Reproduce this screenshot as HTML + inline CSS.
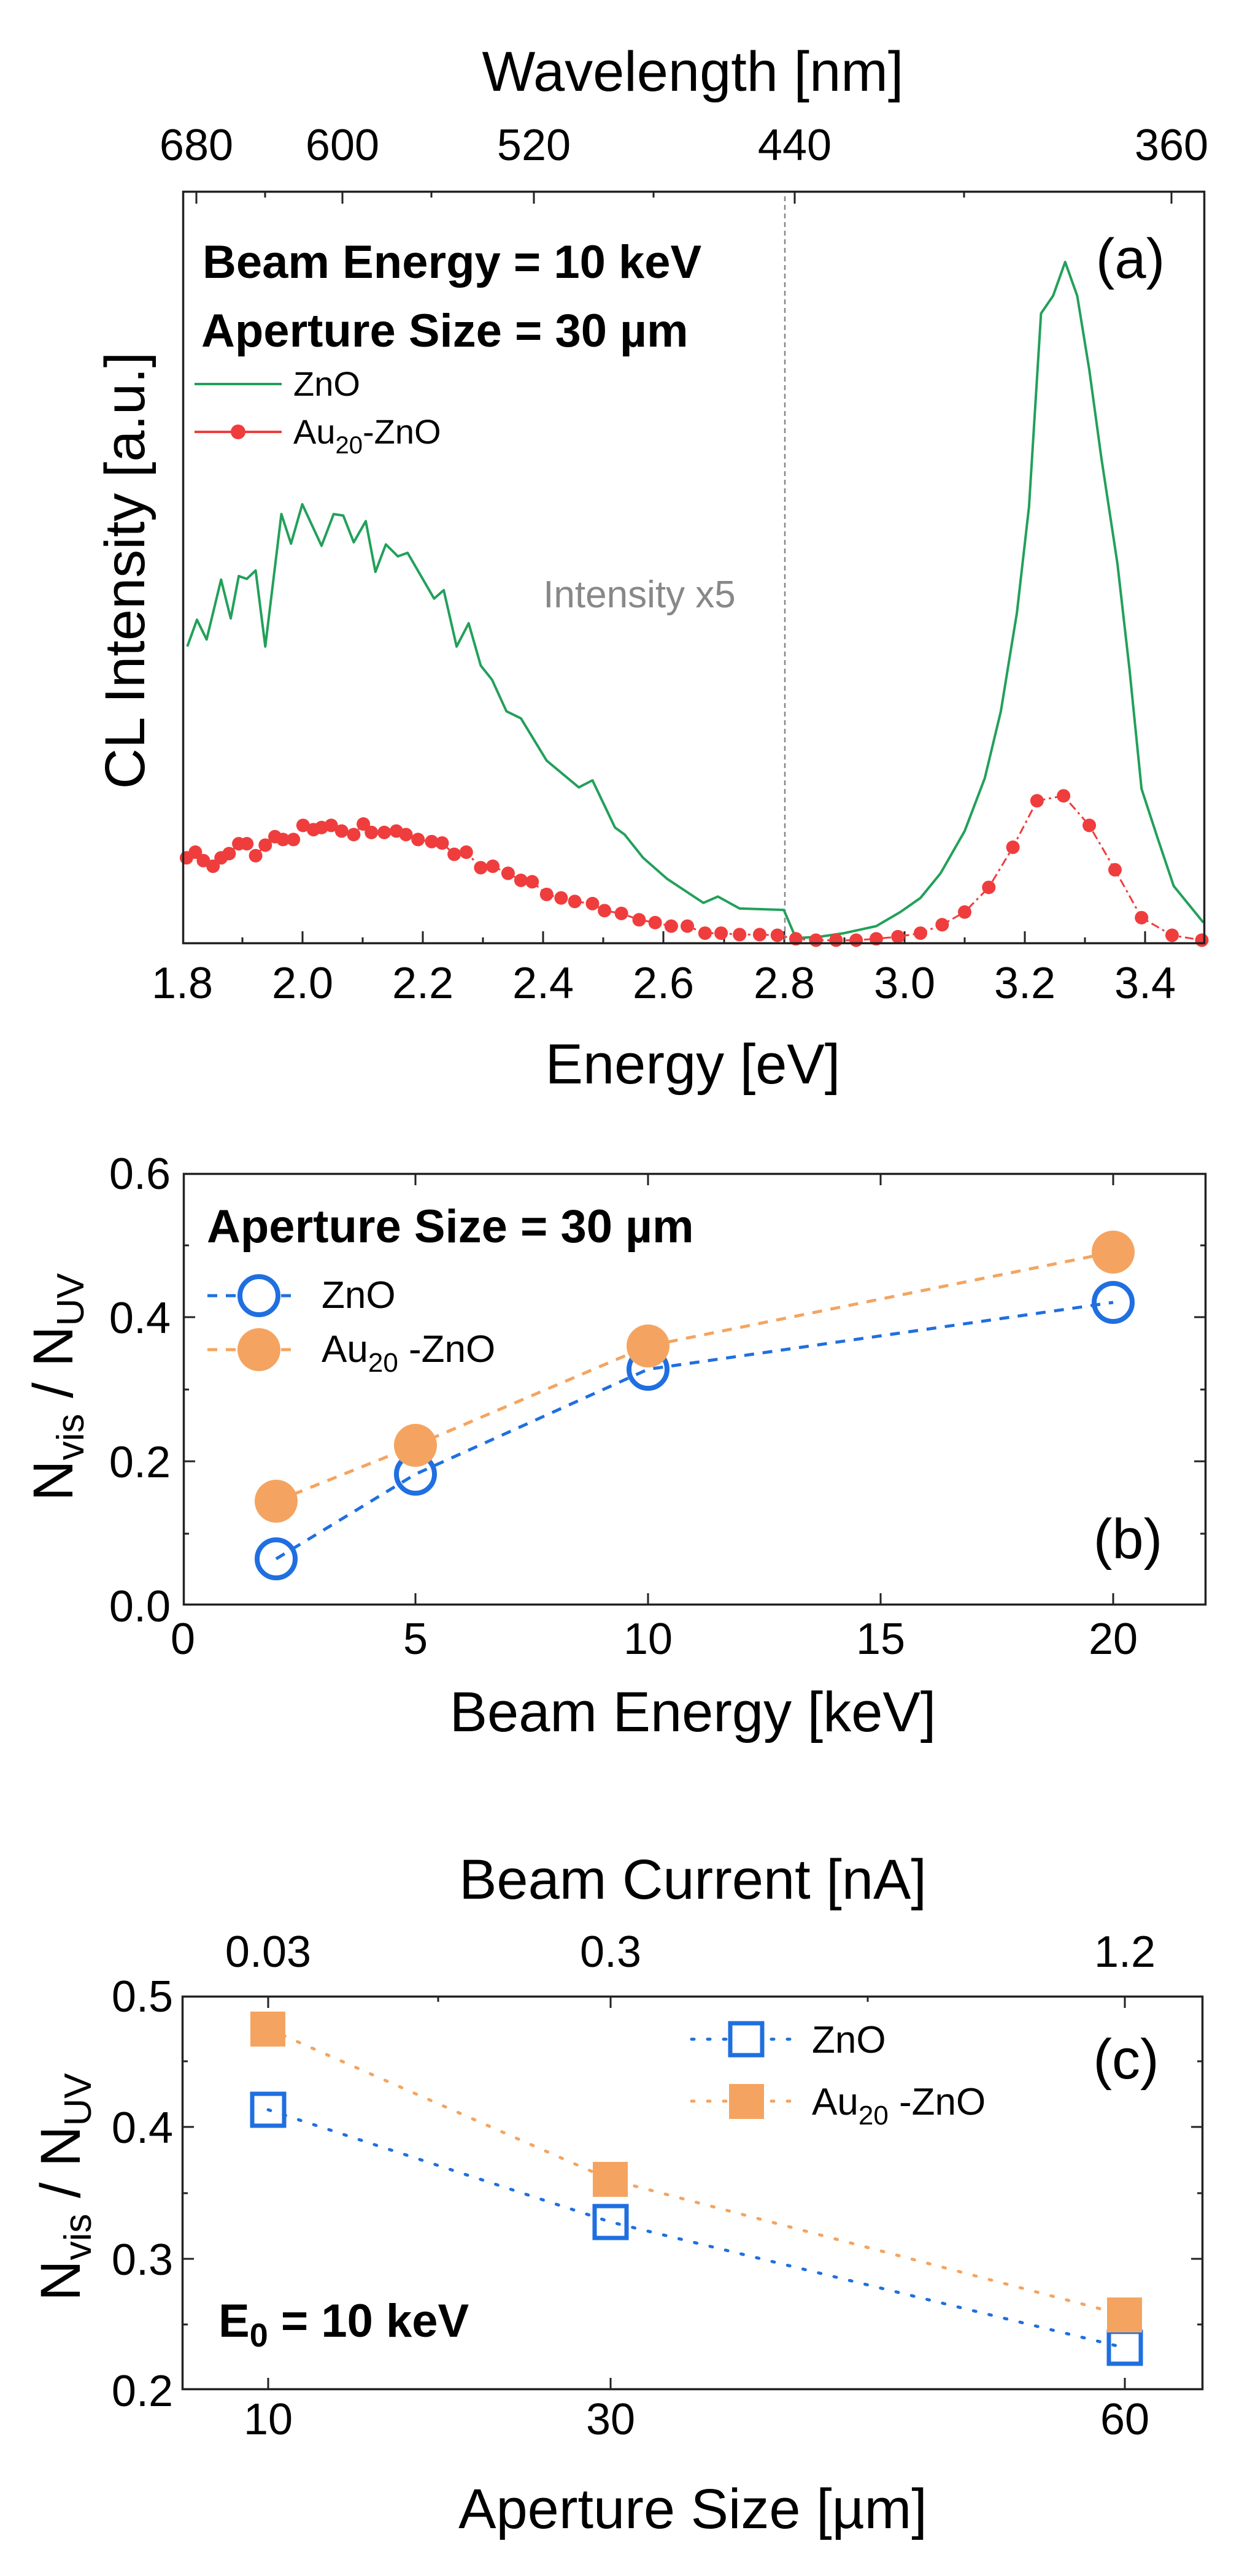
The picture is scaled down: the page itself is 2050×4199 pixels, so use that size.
<!DOCTYPE html>
<html><head><meta charset="utf-8"><style>
html,body{margin:0;padding:0;background:#fff;}
svg{display:block;font-family:"Liberation Sans",Arial,sans-serif;}
</style></head><body>
<svg width="2050" height="4199" viewBox="0 0 2050 4199" xmlns="http://www.w3.org/2000/svg">
<rect width="2050" height="4199" fill="#fff"/>

<!-- ================= PANEL A ================= -->
<text x="1129" y="148" font-size="92" text-anchor="middle">Wavelength [nm]</text>
<g font-size="72" text-anchor="middle">
<text x="320" y="261">680</text><text x="558" y="261">600</text><text x="870" y="261">520</text><text x="1295" y="261">440</text><text x="1909" y="261">360</text>
</g>
<g stroke="#222" stroke-width="3">
<!-- top ticks -->
<line x1="320" y1="311" x2="320" y2="332"/><line x1="558" y1="311" x2="558" y2="332"/><line x1="870" y1="311" x2="870" y2="332"/><line x1="1295" y1="311" x2="1295" y2="332"/><line x1="1909" y1="311" x2="1909" y2="332"/>
<line x1="432" y1="311" x2="432" y2="322"/><line x1="703" y1="311" x2="703" y2="322"/><line x1="1065" y1="311" x2="1065" y2="322"/><line x1="1571" y1="311" x2="1571" y2="322"/>
<!-- bottom ticks -->
<line x1="493" y1="1539" x2="493" y2="1518"/><line x1="689" y1="1539" x2="689" y2="1518"/><line x1="885" y1="1539" x2="885" y2="1518"/><line x1="1081" y1="1539" x2="1081" y2="1518"/><line x1="1278" y1="1539" x2="1278" y2="1518"/><line x1="1474" y1="1539" x2="1474" y2="1518"/><line x1="1670" y1="1539" x2="1670" y2="1518"/><line x1="1866" y1="1539" x2="1866" y2="1518"/>
<line x1="395" y1="1539" x2="395" y2="1528"/><line x1="591" y1="1539" x2="591" y2="1528"/><line x1="787" y1="1539" x2="787" y2="1528"/><line x1="983" y1="1539" x2="983" y2="1528"/><line x1="1180" y1="1539" x2="1180" y2="1528"/><line x1="1376" y1="1539" x2="1376" y2="1528"/><line x1="1572" y1="1539" x2="1572" y2="1528"/><line x1="1768" y1="1539" x2="1768" y2="1528"/>
</g>
<line x1="1279" y1="320" x2="1279" y2="1535" stroke="#888" stroke-width="2.5" stroke-dasharray="8,6"/>
<g transform="scale(1.31,1.148)">
<polyline fill="none" stroke="#22a05a" stroke-width="4" vector-effect="non-scaling-stroke" stroke-linejoin="round" points="233,918 245,880 257,908 275,823 287,878 297,818 307,822 318,810 330,918 350,730 362,772 376,716 400,775 415,730 427,732 440,770 455,740 467,812 480,773 495,790 507,785 540,850 552,838 568,918 583,885 598,945 612,965 630,1010 648,1020 680,1080 720,1118 737,1108 765,1175 777,1185 800,1218 830,1248 875,1282 893,1273 920,1290 975,1292 990,1332 1020,1330 1050,1325 1090,1315 1120,1295 1145,1275 1170,1240 1200,1180 1225,1105 1245,1010 1265,870 1280,720 1295,445 1310,420 1325,372 1340,420 1355,525 1370,650 1390,800 1405,950 1420,1120 1440,1190 1460,1258 1497,1310"/>
<polyline fill="none" stroke="#ef3d3d" stroke-width="3" vector-effect="non-scaling-stroke" stroke-dasharray="14,6,4,6" points="232,1218 243,1210 253,1222 265,1230 275,1218 285,1212 297,1198 307,1198 318,1215 330,1200 342,1188 352,1192 365,1192 377,1172 390,1178 400,1175 412,1172 425,1180 440,1185 452,1170 462,1182 478,1182 493,1180 505,1185 520,1192 537,1195 550,1197 565,1213 580,1210 598,1232 613,1230 632,1240 648,1250 662,1252 680,1270 698,1275 715,1280 737,1283 752,1293 773,1297 795,1306 815,1310 835,1315 855,1315 877,1325 897,1325 920,1327 945,1327 967,1328 990,1333 1015,1335 1040,1335 1065,1335 1090,1333 1117,1330 1145,1325 1172,1313 1200,1295 1230,1260 1260,1203 1290,1137 1323,1130 1355,1172 1387,1235 1420,1303 1458,1328 1495,1335"/>
<g fill="#ef3d3d">
<ellipse cx="232" cy="1218" rx="8.4" ry="9.6"/><ellipse cx="243" cy="1210" rx="8.4" ry="9.6"/><ellipse cx="253" cy="1222" rx="8.4" ry="9.6"/><ellipse cx="265" cy="1230" rx="8.4" ry="9.6"/><ellipse cx="275" cy="1218" rx="8.4" ry="9.6"/><ellipse cx="285" cy="1212" rx="8.4" ry="9.6"/><ellipse cx="297" cy="1198" rx="8.4" ry="9.6"/><ellipse cx="307" cy="1198" rx="8.4" ry="9.6"/><ellipse cx="318" cy="1215" rx="8.4" ry="9.6"/><ellipse cx="330" cy="1200" rx="8.4" ry="9.6"/><ellipse cx="342" cy="1188" rx="8.4" ry="9.6"/><ellipse cx="352" cy="1192" rx="8.4" ry="9.6"/><ellipse cx="365" cy="1192" rx="8.4" ry="9.6"/><ellipse cx="377" cy="1172" rx="8.4" ry="9.6"/><ellipse cx="390" cy="1178" rx="8.4" ry="9.6"/><ellipse cx="400" cy="1175" rx="8.4" ry="9.6"/><ellipse cx="412" cy="1172" rx="8.4" ry="9.6"/><ellipse cx="425" cy="1180" rx="8.4" ry="9.6"/><ellipse cx="440" cy="1185" rx="8.4" ry="9.6"/><ellipse cx="452" cy="1170" rx="8.4" ry="9.6"/><ellipse cx="462" cy="1182" rx="8.4" ry="9.6"/><ellipse cx="478" cy="1182" rx="8.4" ry="9.6"/><ellipse cx="493" cy="1180" rx="8.4" ry="9.6"/><ellipse cx="505" cy="1185" rx="8.4" ry="9.6"/><ellipse cx="520" cy="1192" rx="8.4" ry="9.6"/><ellipse cx="537" cy="1195" rx="8.4" ry="9.6"/><ellipse cx="550" cy="1197" rx="8.4" ry="9.6"/><ellipse cx="565" cy="1213" rx="8.4" ry="9.6"/><ellipse cx="580" cy="1210" rx="8.4" ry="9.6"/><ellipse cx="598" cy="1232" rx="8.4" ry="9.6"/><ellipse cx="613" cy="1230" rx="8.4" ry="9.6"/><ellipse cx="632" cy="1240" rx="8.4" ry="9.6"/><ellipse cx="648" cy="1250" rx="8.4" ry="9.6"/><ellipse cx="662" cy="1252" rx="8.4" ry="9.6"/><ellipse cx="680" cy="1270" rx="8.4" ry="9.6"/><ellipse cx="698" cy="1275" rx="8.4" ry="9.6"/><ellipse cx="715" cy="1280" rx="8.4" ry="9.6"/><ellipse cx="737" cy="1283" rx="8.4" ry="9.6"/><ellipse cx="752" cy="1293" rx="8.4" ry="9.6"/><ellipse cx="773" cy="1297" rx="8.4" ry="9.6"/><ellipse cx="795" cy="1306" rx="8.4" ry="9.6"/><ellipse cx="815" cy="1310" rx="8.4" ry="9.6"/><ellipse cx="835" cy="1315" rx="8.4" ry="9.6"/><ellipse cx="855" cy="1315" rx="8.4" ry="9.6"/><ellipse cx="877" cy="1325" rx="8.4" ry="9.6"/><ellipse cx="897" cy="1325" rx="8.4" ry="9.6"/><ellipse cx="920" cy="1327" rx="8.4" ry="9.6"/><ellipse cx="945" cy="1327" rx="8.4" ry="9.6"/><ellipse cx="967" cy="1328" rx="8.4" ry="9.6"/><ellipse cx="990" cy="1333" rx="8.4" ry="9.6"/><ellipse cx="1015" cy="1335" rx="8.4" ry="9.6"/><ellipse cx="1040" cy="1335" rx="8.4" ry="9.6"/><ellipse cx="1065" cy="1335" rx="8.4" ry="9.6"/><ellipse cx="1090" cy="1333" rx="8.4" ry="9.6"/><ellipse cx="1117" cy="1330" rx="8.4" ry="9.6"/><ellipse cx="1145" cy="1325" rx="8.4" ry="9.6"/><ellipse cx="1172" cy="1313" rx="8.4" ry="9.6"/><ellipse cx="1200" cy="1295" rx="8.4" ry="9.6"/><ellipse cx="1230" cy="1260" rx="8.4" ry="9.6"/><ellipse cx="1260" cy="1203" rx="8.4" ry="9.6"/><ellipse cx="1290" cy="1137" rx="8.4" ry="9.6"/><ellipse cx="1323" cy="1130" rx="8.4" ry="9.6"/><ellipse cx="1355" cy="1172" rx="8.4" ry="9.6"/><ellipse cx="1387" cy="1235" rx="8.4" ry="9.6"/><ellipse cx="1420" cy="1303" rx="8.4" ry="9.6"/><ellipse cx="1458" cy="1328" rx="8.4" ry="9.6"/><ellipse cx="1495" cy="1335" rx="8.4" ry="9.6"/>
</g>
</g>
<rect x="298.5" y="312.5" width="1664" height="1225" fill="none" stroke="#222" stroke-width="3.5"/>
<text x="330" y="453" font-size="76" font-weight="bold">Beam Energy = 10 keV</text>
<text x="328" y="565" font-size="76" font-weight="bold">Aperture Size = 30 µm</text>
<line x1="317" y1="626" x2="459" y2="626" stroke="#22a05a" stroke-width="4"/>
<text x="478" y="645" font-size="56">ZnO</text>
<line x1="317" y1="704" x2="459" y2="704" stroke="#ef3d3d" stroke-width="4"/>
<circle cx="388" cy="704" r="12" fill="#ef3d3d"/>
<text x="478" y="723" font-size="56">Au<tspan font-size="40" dy="16">20</tspan><tspan dy="-16">-ZnO</tspan></text>
<text x="1842" y="453" font-size="92" text-anchor="middle">(a)</text>
<text x="1042" y="990" font-size="62" text-anchor="middle" fill="#888">Intensity x5</text>
<g font-size="72" text-anchor="middle">
<text x="297" y="1627">1.8</text><text x="493" y="1627">2.0</text><text x="689" y="1627">2.2</text><text x="885" y="1627">2.4</text><text x="1081" y="1627">2.6</text><text x="1278" y="1627">2.8</text><text x="1474" y="1627">3.0</text><text x="1670" y="1627">3.2</text><text x="1866" y="1627">3.4</text>
</g>
<text x="1129" y="1766" font-size="92" text-anchor="middle">Energy [eV]</text>
<text transform="translate(235,930) rotate(-90)" font-size="92" text-anchor="middle">CL Intensity [a.u.]</text>

<!-- ================= PANEL B ================= -->
<g stroke="#222" stroke-width="3">
<line x1="677" y1="2617" x2="677" y2="2597"/><line x1="1056" y1="2617" x2="1056" y2="2597"/><line x1="1435" y1="2617" x2="1435" y2="2597"/><line x1="1814" y1="2617" x2="1814" y2="2597"/>
<line x1="677" y1="1912" x2="677" y2="1932"/><line x1="1056" y1="1912" x2="1056" y2="1932"/><line x1="1435" y1="1912" x2="1435" y2="1932"/><line x1="1814" y1="1912" x2="1814" y2="1932"/>
<line x1="298" y1="2382" x2="318" y2="2382"/><line x1="298" y1="2147" x2="318" y2="2147"/>
<line x1="298" y1="2500" x2="308" y2="2500"/><line x1="298" y1="2265" x2="308" y2="2265"/><line x1="298" y1="2030" x2="308" y2="2030"/>
<line x1="1966" y1="2382" x2="1946" y2="2382"/><line x1="1966" y1="2147" x2="1946" y2="2147"/>
<line x1="1966" y1="2500" x2="1956" y2="2500"/><line x1="1966" y1="2265" x2="1956" y2="2265"/><line x1="1966" y1="2030" x2="1956" y2="2030"/>
</g>
<polyline fill="none" stroke="#f4a460" stroke-width="5" stroke-dasharray="16,14" points="450,2447 677,2356 1056,2194 1814,2041"/>
<polyline fill="none" stroke="#1f6fe0" stroke-width="5" stroke-dasharray="16,14" points="450,2541 677,2403 1056,2232 1814,2123"/>
<g fill="none" stroke="#1f6fe0" stroke-width="8">
<circle cx="450" cy="2541" r="31"/><circle cx="677" cy="2403" r="31"/><circle cx="1056" cy="2232" r="31"/><circle cx="1814" cy="2123" r="31"/>
</g>
<g fill="#f4a460">
<circle cx="450" cy="2447" r="35"/><circle cx="677" cy="2356" r="35"/><circle cx="1056" cy="2194" r="35"/><circle cx="1814" cy="2041" r="35"/>
</g>
<rect x="299.5" y="1913.5" width="1665" height="702" fill="none" stroke="#222" stroke-width="3.5"/>
<text x="337" y="2025" font-size="76" font-weight="bold">Aperture Size = 30 µm</text>
<line x1="338" y1="2112" x2="485" y2="2112" stroke="#1f6fe0" stroke-width="5" stroke-dasharray="16,14"/>
<circle cx="422" cy="2112" r="31" fill="#fff" stroke="#1f6fe0" stroke-width="8"/>
<text x="524" y="2132" font-size="62">ZnO</text>
<line x1="338" y1="2200" x2="485" y2="2200" stroke="#f4a460" stroke-width="5" stroke-dasharray="16,14"/>
<circle cx="422" cy="2200" r="35" fill="#f4a460"/>
<text x="524" y="2220" font-size="62">Au<tspan font-size="44" dy="16">20</tspan><tspan dy="-16"> -ZnO</tspan></text>
<text x="1838" y="2540" font-size="92" text-anchor="middle">(b)</text>
<g font-size="72" text-anchor="end">
<text x="278" y="2643">0.0</text><text x="278" y="2408">0.2</text><text x="278" y="2173">0.4</text><text x="278" y="1938">0.6</text>
</g>
<g font-size="72" text-anchor="middle">
<text x="298" y="2696">0</text><text x="677" y="2696">5</text><text x="1056" y="2696">10</text><text x="1435" y="2696">15</text><text x="1814" y="2696">20</text>
</g>
<text x="1129" y="2822" font-size="92" text-anchor="middle">Beam Energy [keV]</text>
<text transform="translate(118,2261) rotate(-90)" font-size="92" text-anchor="middle">N<tspan font-size="62" dy="18">vis</tspan><tspan dy="-18"> / N</tspan><tspan font-size="62" dy="18">UV</tspan></text>

<!-- ================= PANEL C ================= -->
<text x="1129" y="3095" font-size="92" text-anchor="middle">Beam Current [nA]</text>
<g font-size="72" text-anchor="middle">
<text x="437" y="3206">0.03</text><text x="995" y="3206">0.3</text><text x="1833" y="3206">1.2</text>
</g>
<g stroke="#222" stroke-width="3">
<line x1="437" y1="3253" x2="437" y2="3273"/><line x1="995" y1="3253" x2="995" y2="3273"/><line x1="1833" y1="3253" x2="1833" y2="3273"/>
<line x1="714" y1="3253" x2="714" y2="3263"/><line x1="1414" y1="3253" x2="1414" y2="3263"/>
<line x1="437" y1="3896" x2="437" y2="3876"/><line x1="995" y1="3896" x2="995" y2="3876"/><line x1="1833" y1="3896" x2="1833" y2="3876"/>
<line x1="296" y1="3467" x2="316" y2="3467"/><line x1="296" y1="3682" x2="316" y2="3682"/>
<line x1="296" y1="3360" x2="306" y2="3360"/><line x1="296" y1="3575" x2="306" y2="3575"/><line x1="296" y1="3789" x2="306" y2="3789"/>
<line x1="1961" y1="3467" x2="1941" y2="3467"/><line x1="1961" y1="3682" x2="1941" y2="3682"/>
<line x1="1961" y1="3360" x2="1951" y2="3360"/><line x1="1961" y1="3575" x2="1951" y2="3575"/><line x1="1961" y1="3789" x2="1951" y2="3789"/>
</g>
<polyline fill="none" stroke="#f4a460" stroke-width="5" stroke-dasharray="4,22" stroke-linecap="round" points="437,3307 995,3553 1833,3774"/>
<polyline fill="none" stroke="#1f6fe0" stroke-width="5" stroke-dasharray="4,22" stroke-linecap="round" points="437,3439 995,3622 1833,3827"/>
<g fill="none" stroke="#1f6fe0" stroke-width="7">
<rect x="411" y="3413" width="52" height="52"/><rect x="969" y="3596" width="52" height="52"/><rect x="1807" y="3801" width="52" height="52"/>
</g>
<g fill="#f4a460">
<rect x="408" y="3279" width="57" height="57"/><rect x="966" y="3524" width="57" height="57"/><rect x="1804" y="3745" width="57" height="57"/>
</g>
<rect x="297.5" y="3254.5" width="1662" height="640" fill="none" stroke="#222" stroke-width="3.5"/>
<line x1="1127" y1="3324" x2="1297" y2="3324" stroke="#1f6fe0" stroke-width="5" stroke-dasharray="4,22" stroke-linecap="round"/>
<rect x="1190" y="3298" width="52" height="52" fill="#fff" stroke="#1f6fe0" stroke-width="7"/>
<text x="1323" y="3346" font-size="62">ZnO</text>
<line x1="1127" y1="3425" x2="1297" y2="3425" stroke="#f4a460" stroke-width="5" stroke-dasharray="4,22" stroke-linecap="round"/>
<rect x="1188" y="3397" width="57" height="57" fill="#f4a460"/>
<text x="1323" y="3447" font-size="62">Au<tspan font-size="44" dy="16">20</tspan><tspan dy="-16"> -ZnO</tspan></text>
<text x="1835" y="3388" font-size="92" text-anchor="middle">(c)</text>
<text x="356" y="3809" font-size="76" font-weight="bold">E<tspan font-size="54" dy="16">0</tspan><tspan dy="-16"> = 10 keV</tspan></text>
<g font-size="72" text-anchor="end">
<text x="282" y="3279">0.5</text><text x="282" y="3493">0.4</text><text x="282" y="3708">0.3</text><text x="282" y="3922">0.2</text>
</g>
<g font-size="72" text-anchor="middle">
<text x="437" y="3968">10</text><text x="995" y="3968">30</text><text x="1833" y="3968">60</text>
</g>
<text x="1129" y="4121" font-size="92" text-anchor="middle">Aperture Size [µm]</text>
<text transform="translate(130,3565) rotate(-90)" font-size="92" text-anchor="middle">N<tspan font-size="62" dy="18">vis</tspan><tspan dy="-18"> / N</tspan><tspan font-size="62" dy="18">UV</tspan></text>
</svg>
</body></html>
